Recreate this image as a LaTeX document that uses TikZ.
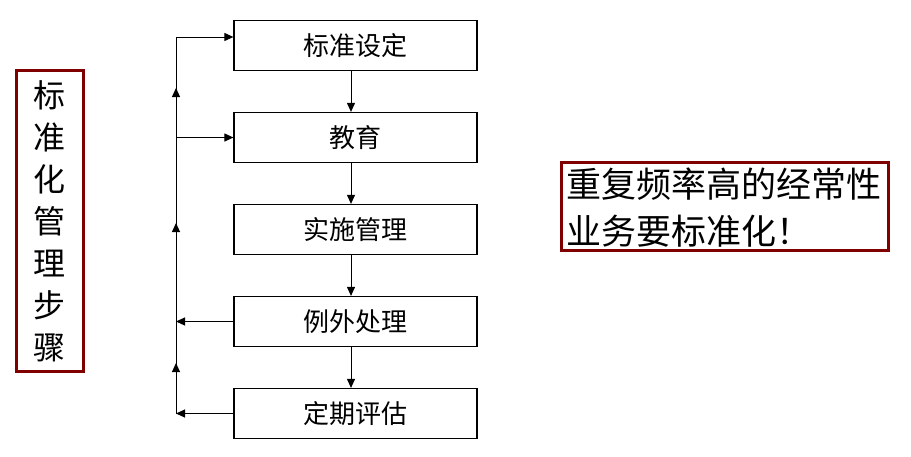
\documentclass[tikz,border=0pt]{standalone}
\usepackage{fontspec}
\setmainfont{Noto Sans CJK SC}
\usetikzlibrary{arrows.meta}
\definecolor{dred}{RGB}{128,0,0}
\begin{document}
\begin{tikzpicture}[x=1pt,y=-1pt,
  stepbox/.style={draw=black,line width=1.2pt,minimum width=243pt,minimum height=50pt,inner sep=0pt,font=\fontsize{26}{30}\selectfont},
  redbox/.style={draw=dred,line width=3pt,inner sep=0pt},
  conn/.style={line width=1pt,-{Triangle[length=9pt,width=8pt]}},
  plain/.style={line width=1pt}]
\useasboundingbox (0,0) rectangle (911,456);
\node[stepbox] (s1) at (355.5,45.5) {标准设定};
\node[stepbox] (s2) at (355.5,137.5) {教育};
\node[stepbox] (s3) at (355.5,229.5) {实施管理};
\node[stepbox] (s4) at (355.5,321.5) {例外处理};
\node[stepbox] (s5) at (355.5,413.5) {定期评估};
\foreach \a/\b in {s1/s2,s2/s3,s3/s4,s4/s5}
  \draw[conn] ([xshift=-4.5pt]\a.south) -- ([xshift=-4.5pt]\b.north);
% feedback line
\coordinate (c1) at (176,37);
\coordinate (c2) at (176,137.5);
\coordinate (c4) at (176,321.5);
\coordinate (c5) at (176,413.5);
\coordinate (u1) at (176,88);
\coordinate (u2) at (176,223);
\coordinate (u3) at (176,363);
\draw[plain] (c5) -- (c1);
\draw[conn] (c1) -- (s1.west |- c1);
\draw[conn] (c2) -- (s2.west);
\draw[conn] (s4.west) -- (c4);
\draw[conn] (s5.west) -- (c5);
\draw[conn] (176,100) -- (u1);
\draw[conn] (176,235) -- (u2);
\draw[conn] (176,375) -- (u3);
% left box
\node[redbox,minimum width=67pt,minimum height=301pt] (lb) at (49.5,220.5) {};
\node[font=\fontsize{32}{42}\selectfont,align=center,inner sep=0pt] (lt) at (49.5,221) {标\\准\\化\\管\\理\\步\\骤};
% right box
\node[redbox,minimum width=327pt,minimum height=88pt] (rb) at (724.5,206.5) {};
\node[font=\fontsize{35}{47}\selectfont,align=left,inner sep=0pt,anchor=west] (rt) at (566,208) {重复频率高的经常性\\业务要标准化！};
\end{tikzpicture}
\end{document}
